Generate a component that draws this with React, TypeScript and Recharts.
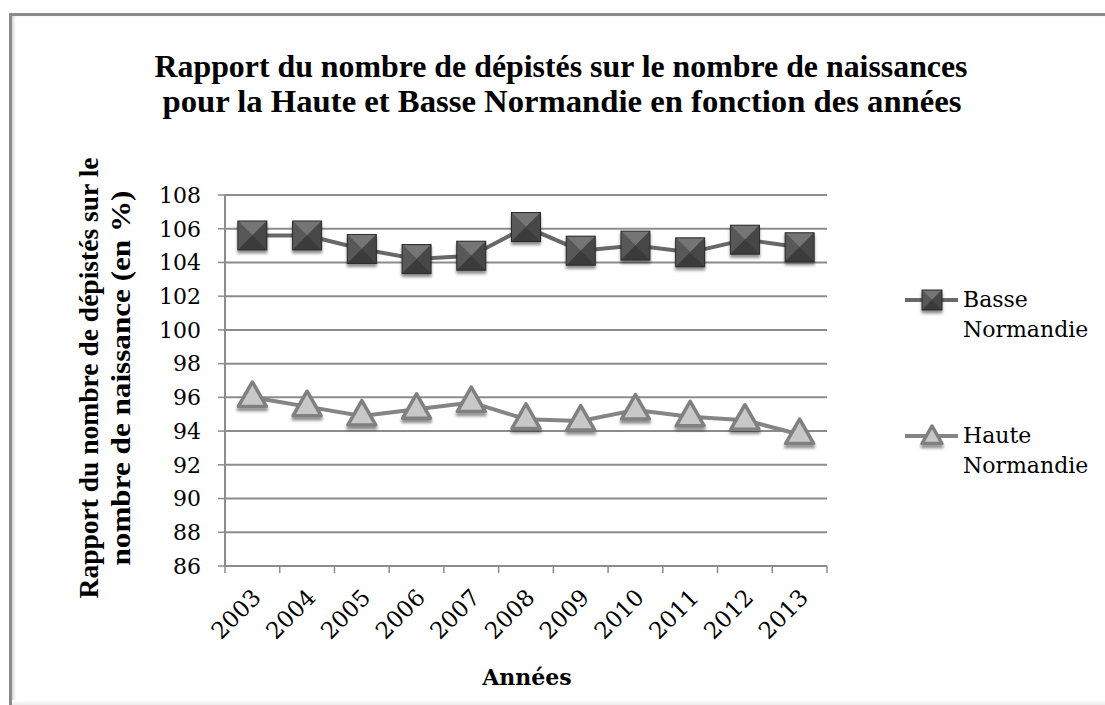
import { LineChart, Line, XAxis, YAxis, CartesianGrid, Legend, ReferenceLine } from "recharts"

// années
const years = ["2003", "2004", "2005", "2006", "2007", "2008", "2009", "2010", "2011", "2012", "2013"]
// rapport dépistés / naissances (%)
const basse = [105.6, 105.6, 104.8, 104.2, 104.4, 106.1, 104.7, 105.0, 104.6, 105.35, 104.9]
const haute = [96.0, 95.45, 94.9, 95.3, 95.7, 94.7, 94.6, 95.25, 94.85, 94.65, 93.8]
const yTicks = [86, 88, 90, 92, 94, 96, 98, 100, 102, 104, 106, 108]

const data = years.map((year, i) => ({ year, pos: i + 0.5, basse: basse[i], haute: haute[i] }))
const labelPos = years.map((_, i) => i + 0.5)
const bounds = [...years.map((_, i) => i), years.length]

const GRAY = "#8c8c8c"
const serif = "'DejaVu Serif', serif"
const times = "'Liberation Serif', 'Times New Roman', serif"

function Square({ cx, cy, s }: { cx: number; cy: number; s: number }) {
  return (
    <g filter="url(#dropShadow)">
      <rect x={cx - s} y={cy - s} width={2 * s} height={2 * s} fill="#4a4a4a" />
      <polygon points={`${cx - s},${cy - s} ${cx + s},${cy - s} ${cx},${cy}`} fill="#747474" />
      <polygon points={`${cx - s},${cy - s} ${cx},${cy} ${cx - s},${cy + s}`} fill="#595959" />
      <polygon points={`${cx + s},${cy - s} ${cx + s},${cy + s} ${cx},${cy}`} fill="#474747" />
      <polygon points={`${cx - s},${cy + s} ${cx + s},${cy + s} ${cx},${cy}`} fill="#3a3a3a" />
      <rect x={cx - s} y={cy - s} width={2 * s} height={2 * s} fill="none" stroke="#2c2c2c" strokeWidth={1} />
    </g>
  )
}

function Tri({ cx, cy, s }: { cx: number; cy: number; s: number }) {
  return (
    <polygon
      filter="url(#dropShadow)"
      points={`${cx},${cy - s * 1.1} ${cx - s},${cy + s * 0.65} ${cx + s},${cy + s * 0.65}`}
      fill="#c8c8c8"
      stroke="#808080"
      strokeWidth={3.5}
      strokeLinejoin="round"
    />
  )
}

const squareDot = (p: any) => (p.cx == null ? null : <Square key={p.index} cx={p.cx} cy={p.cy} s={14.5} />)
const triDot = (p: any) => (p.cx == null ? null : <Tri key={p.index} cx={p.cx} cy={p.cy} s={14} />)

const XTick = ({ x, y, payload }: any) => (
  <text
    x={x + 10}
    y={y + 25}
    transform={`rotate(-45, ${x + 10}, ${y + 25})`}
    textAnchor="end"
    fontFamily={serif}
    fontSize={23}
    fill="#000"
  >
    {years[Math.floor(payload.value)]}
  </text>
)

function LegendBox({ payload }: any) {
  const rows = [
    { key: "basse", top: 0 },
    { key: "haute", top: 136 },
  ]
  return (
    <div style={{ position: "relative", width: 210, height: 220 }}>
      {rows.map((r) => {
        const item = (payload || []).find((p: any) => p.dataKey === r.key)
        if (!item) return null
        const words = String(item.value).split(" ")
        return (
          <div key={r.key}>
            <svg style={{ position: "absolute", left: 0, top: r.top, overflow: "visible" }} width={70} height={40}>
              <line x1={10} x2={63} y1={20} y2={20} stroke={item.color} strokeWidth={4} />
              {r.key === "basse" ? <Square cx={37} cy={20} s={10} /> : <Tri cx={37} cy={21} s={10} />}
            </svg>
            <div
              style={{
                position: "absolute",
                left: 68,
                top: r.top + 5,
                fontFamily: serif,
                fontSize: 22,
                lineHeight: "30px",
                color: "#000",
                whiteSpace: "nowrap",
              }}
            >
              {words.map((w: string) => (
                <div key={w}>{w}</div>
              ))}
            </div>
          </div>
        )
      })}
    </div>
  )
}

export default function App() {
  return (
    <div style={{ position: "absolute", left: 0, top: 0, width: 1105, height: 705, background: "#fff", overflow: "hidden" }}>
      <svg width={0} height={0} style={{ position: "absolute" }}>
        <defs>
          <filter id="dropShadow" x="-50%" y="-50%" width="200%" height="200%">
            <feGaussianBlur in="SourceAlpha" stdDeviation={1.6} />
            <feOffset dx={0} dy={3} result="b" />
            <feComponentTransfer>
              <feFuncA type="linear" slope={0.45} />
            </feComponentTransfer>
            <feMerge>
              <feMergeNode />
              <feMergeNode in="SourceGraphic" />
            </feMerge>
          </filter>
        </defs>
      </svg>

      <div
        style={{
          position: "absolute",
          left: 9,
          top: 13,
          width: 1110,
          height: 700,
          borderTop: "3px solid #8a8a8a",
          borderLeft: "3px solid #8a8a8a",
          boxShadow: "inset 3px 0 3px -1px #d8d8d8",
        }}
      />
      <div style={{ position: "absolute", left: 12, top: 700, width: 1093, height: 5, background: "linear-gradient(#fff, #ececec)" }} />

      <div style={{ position: "absolute", left: 0, top: 0 }}>
        <LineChart width={1105} height={705} data={data} margin={{ top: 195, right: 278, bottom: 69, left: 150 }}>
          <CartesianGrid vertical={false} stroke={GRAY} strokeWidth={2} />
          <XAxis
            dataKey="pos"
            type="number"
            domain={[0, years.length]}
            ticks={labelPos}
            interval={0}
            height={70}
            tick={<XTick />}
            tickLine={false}
            axisLine={{ stroke: GRAY, strokeWidth: 2 }}
          />
          <YAxis
            domain={[86, 108]}
            ticks={yTicks}
            interval={0}
            width={75}
            tickSize={7}
            tickMargin={17}
            tick={{ fill: "#000", fontFamily: serif, fontSize: 22 }}
            tickLine={{ stroke: GRAY, strokeWidth: 1.5 }}
            axisLine={{ stroke: GRAY, strokeWidth: 2 }}
          />
          {bounds.map((b) => (
            <ReferenceLine
              key={b}
              segment={[
                { x: b, y: 86 },
                { x: b, y: 85.58 },
              ]}
              ifOverflow="visible"
              stroke={GRAY}
              strokeWidth={1.5}
            />
          ))}
          <Line
            dataKey="basse"
            name="Basse Normandie"
            stroke="#686868"
            strokeWidth={4}
            dot={squareDot}
            activeDot={false}
            isAnimationActive={false}
          />
          <Line
            dataKey="haute"
            name="Haute Normandie"
            stroke="#858585"
            strokeWidth={4}
            dot={triDot}
            activeDot={false}
            isAnimationActive={false}
          />
          <Legend
            layout="vertical"
            align="center"
            verticalAlign="middle"
            content={<LegendBox />}
            wrapperStyle={{ position: "absolute", left: 895, top: 280, width: 210, height: 220 }}
          />
        </LineChart>
      </div>

      <svg width={1105} height={705} style={{ position: "absolute", left: 0, top: 0, pointerEvents: "none" }}>
        <g fontFamily={times} fontWeight="bold" fill="#000">
          <text x={561} y={77} fontSize={32} textAnchor="middle" textLength={813} lengthAdjust="spacingAndGlyphs">
            Rapport du nombre de dépistés sur le nombre de naissances
          </text>
          <text x={562} y={112} fontSize={32} textAnchor="middle" textLength={799} lengthAdjust="spacingAndGlyphs">
            pour la Haute et Basse Normandie en fonction des années
          </text>
          <text
            x={98}
            y={378}
            fontSize={27}
            textAnchor="middle"
            transform="rotate(-90, 98, 378)"
            textLength={441}
            lengthAdjust="spacingAndGlyphs"
          >
            Rapport du nombre de dépistés sur le
          </text>
          <text
            x={130}
            y={378}
            fontSize={27}
            textAnchor="middle"
            transform="rotate(-90, 130, 378)"
            textLength={375}
            lengthAdjust="spacingAndGlyphs"
          >
            nombre de naissance (en %)
          </text>
        </g>
        <text x={527} y={685} fontFamily={serif} fontWeight="bold" fontSize={22} textAnchor="middle" fill="#000">
          Années
        </text>
      </svg>
    </div>
  )
}
